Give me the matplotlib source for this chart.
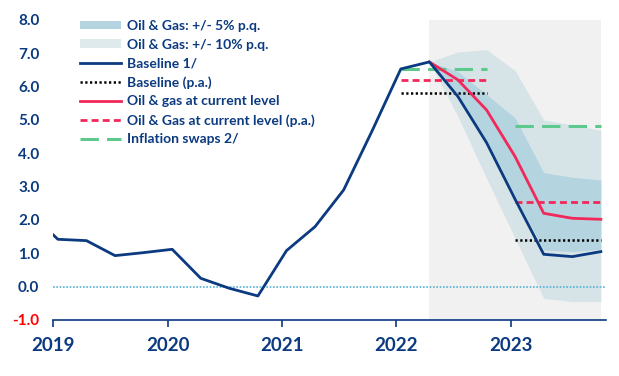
"""
Inflation projection chart: baseline vs oil & gas scenarios
"""

import matplotlib
matplotlib.use("Agg")
import matplotlib.pyplot as plt
from matplotlib.patches import Patch
from matplotlib.lines import Line2D

# ── Data ────────────────────────────────────────
quarters = ["2018Q4",
            "2019Q1", "2019Q2", "2019Q3", "2019Q4",
            "2020Q1", "2020Q2", "2020Q3", "2020Q4",
            "2021Q1", "2021Q2", "2021Q3", "2021Q4",
            "2022Q1", "2022Q2", "2022Q3", "2022Q4",
            "2023Q1", "2023Q2", "2023Q3", "2023Q4"]
baseline = [2.23,
            1.42, 1.38, 0.93, 1.02,
            1.12, 0.25, -0.05, -0.28,
            1.08, 1.80, 2.90, 4.68,
            6.53, 6.74, 5.70, 4.32,
            2.62, 0.97, 0.90, 1.05]

proj_quarters = ["2022Q2", "2022Q3", "2022Q4", "2023Q1", "2023Q2", "2023Q3", "2023Q4"]
oil_current   = [6.74, 6.20, 5.30, 3.90, 2.20, 2.05, 2.02]
band5_upper   = [6.74, 6.45, 5.76, 5.06, 3.42, 3.28, 3.20]
band5_lower   = [6.74, 5.76, 4.40, 2.72, 1.10, 1.05, 1.12]
band10_upper  = [6.74, 7.04, 7.11, 6.48, 5.00, 4.85, 4.69]
band10_lower  = [6.74, 5.10, 3.25, 1.45, -0.35, -0.45, -0.45]

# annual averages (p.a.), drawn from Q1 to Q4 of each year
pa_years      = [2022, 2023]
baseline_pa   = [5.81, 1.41]
oil_pa        = [6.19, 2.54]
swaps_pa      = [6.53, 4.83]

year_ticks  = [2019, 2020, 2021, 2022, 2023]
y_ticks     = [-1, 0, 1, 2, 3, 4, 5, 6, 7, 8]

# ── Style ───────────────────────────────────────
NAVY  = "#0b3a80"
RED   = "#f2285a"
GREEN = "#5ec98c"
GREY  = "#f1f1f1"
LIGHT = "#d6e4e7"
DARK  = "#b4d4df"
ZERO  = "#4fb3d9"

plt.rcParams["font.family"] = ["Lato", "DejaVu Sans"]


def qpos(q):
    # quarterly observations sit just after the start of the quarter
    year, qn = int(q[:4]), int(q[-1])
    return year + (qn - 1) * 0.25 + 0.04


x_hist = [qpos(q) for q in quarters]
x_proj = [qpos(q) for q in proj_quarters]

fig = plt.figure(figsize=(6.19, 3.76), dpi=100)
ax = fig.add_axes([0.0861, 0.149, 0.8929, 0.798])

# projection period shading + uncertainty bands
ax.axvspan(x_proj[0], x_proj[-1], color=GREY, lw=0, zorder=0)
ax.fill_between(x_proj, band10_lower, band10_upper, color=LIGHT, lw=0, zorder=1)
ax.fill_between(x_proj, band5_lower, band5_upper, color=DARK, lw=0, zorder=2)

ax.axhline(0, color=ZERO, lw=1.2, dashes=(1, 1), zorder=3)

ax.plot(x_hist, baseline, color=NAVY, lw=2, zorder=6)
ax.plot(x_proj, oil_current, color=RED, lw=2, zorder=5)

for yr, b, o, s in zip(pa_years, baseline_pa, oil_pa, swaps_pa):
    x0, x1 = qpos(f"{yr}Q1"), qpos(f"{yr}Q4")
    ax.plot([x0, x1], [b, b], color="black", lw=1.8, dashes=(0.9, 1.0), zorder=4)
    ax.plot([x0, x1], [o, o], color=RED, lw=2, dashes=(2.5, 1.5), zorder=4)
    ax.plot([x0, x1], [s, s], color=GREEN, lw=2.2, dashes=(6, 2.7), zorder=4)

ax.set_xlim(2019.0, 2023.835)
ax.set_ylim(-1, 8)

ax.set_xticks(year_ticks)
ax.set_xticklabels([str(y) for y in year_ticks], fontsize=13.5, color=NAVY,
                   fontweight="bold")
ax.set_yticks(y_ticks)
ax.set_yticklabels([f"{v:.1f}" for v in y_ticks], fontsize=11, color=NAVY,
                   fontweight="bold")
ax.get_yticklabels()[0].set_color("#ff0000")
ax.tick_params(axis="x", length=5, width=1.2, color=NAVY, pad=7, direction="out")
ax.tick_params(axis="y", length=0, pad=10)

for side in ["top", "right", "left"]:
    ax.spines[side].set_visible(False)
ax.spines["bottom"].set_color(NAVY)
ax.spines["bottom"].set_linewidth(1.2)

handles = [
    Patch(facecolor=DARK, edgecolor="none"),
    Patch(facecolor="#dfeaed", edgecolor="none"),
    Line2D([], [], color=NAVY, lw=2),
    Line2D([], [], color="black", lw=1.8, dashes=(0.9, 1.0)),
    Line2D([], [], color=RED, lw=2),
    Line2D([], [], color=RED, lw=2, dashes=(2.5, 1.5)),
    Line2D([], [], color=GREEN, lw=2.2, dashes=(6, 2.7)),
]
labels = [
    "Oil & Gas: +/- 5% p.q.",
    "Oil & Gas: +/- 10% p.q.",
    "Baseline 1/",
    "Baseline (p.a.)",
    "Oil & gas at current level",
    "Oil & Gas at current level (p.a.)",
    "Inflation swaps 2/",
]
leg = ax.legend(handles, labels, loc="upper left", bbox_to_anchor=(0.048, 1.0),
                frameon=False, fontsize=10, handlelength=3.0, handleheight=0.6,
                handletextpad=0.4, labelspacing=0.48, borderpad=0, borderaxespad=0)
for t in leg.get_texts():
    t.set_color(NAVY)
    t.set_fontweight("bold")

fig.savefig("out.png", dpi=100)
